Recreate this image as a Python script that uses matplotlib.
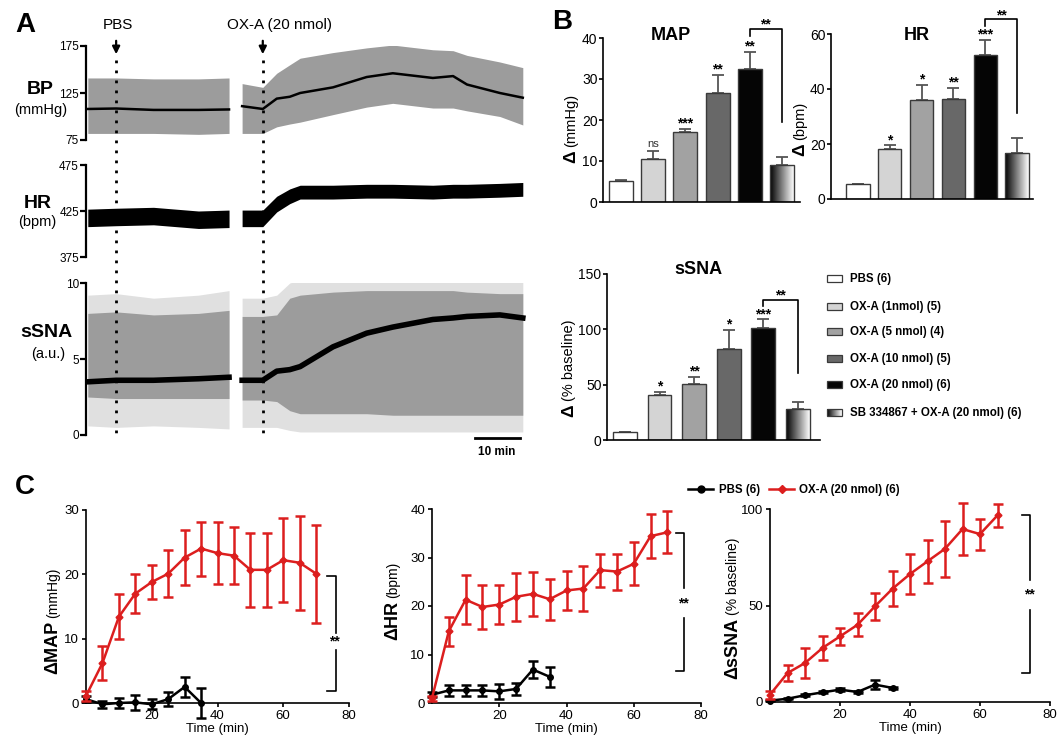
import numpy as np
import matplotlib.pyplot as plt
from matplotlib.patches import Rectangle
from matplotlib.lines import Line2D

plt.rcParams['font.family'] = ['Liberation Sans', 'DejaVu Sans']
plt.rcParams['axes.linewidth'] = 1.2

W, H = 1063, 750

# ---------------- A: raw recordings (time in min) ----------------
pbs_time = 6.7
oxa_time = 39.3
t_left = [0.4, 6.7, 15.0, 25.0, 31.8]
t_right = [34.7, 39.3, 42.4, 45.3, 47.6, 54.9, 62.4, 68.2, 77.1, 81.6, 84.7, 92.0, 97.1]

bp_mean_l = [108, 108.5, 107, 107, 107.5]
bp_hi_l = [141, 141, 140, 140, 141]
bp_lo_l = [82, 82, 82, 81, 82]
bp_mean_r = [111, 108, 119, 121, 125, 131, 142, 146, 141, 143, 134, 125, 120]
bp_hi_r = [135, 131, 146, 155, 162, 168, 173, 176, 171, 170, 165, 158, 152]
bp_lo_r = [82, 82, 89, 92, 94, 102, 110, 114, 109, 109, 106, 100, 91]

hr_hi_l = [427, 428, 429, 425, 426]
hr_lo_l = [408, 409, 410, 406, 407]
hr_hi_r = [426, 426, 441, 449, 453, 453, 454, 454, 453, 454, 454, 455, 456]
hr_lo_r = [408, 408, 424, 433, 438, 438, 439, 439, 438, 439, 439, 440, 441]

sn_mean_l = [3.5, 3.6, 3.6, 3.7, 3.8]
sn_hi_l = [8.0, 8.1, 7.9, 8.0, 8.2]
sn_lo_l = [2.5, 2.4, 2.4, 2.4, 2.4]
sn_spk_hi_l = [9.2, 9.3, 9.0, 9.2, 9.5]
sn_spk_lo_l = [0.6, 0.5, 0.6, 0.5, 0.4]
sn_mean_r = [3.6, 3.6, 4.2, 4.3, 4.5, 5.8, 6.7, 7.1, 7.6, 7.7, 7.8, 7.9, 7.7]
sn_hi_r = [7.8, 7.8, 7.9, 9.0, 9.2, 9.4, 9.5, 9.5, 9.5, 9.5, 9.4, 9.3, 9.3]
sn_lo_r = [2.3, 2.3, 2.2, 1.6, 1.4, 1.4, 1.4, 1.3, 1.3, 1.3, 1.3, 1.3, 1.3]
sn_spk_hi_r = [9.0, 9.0, 9.2, 10.0, 10.2, 10.3, 10.3, 10.3, 10.3, 10.3, 10.2, 10.2, 10.2]
sn_spk_lo_r = [0.5, 0.5, 0.5, 0.3, 0.2, 0.2, 0.2, 0.2, 0.2, 0.2, 0.2, 0.2, 0.2]

# ---------------- B: peak responses ----------------
groups = ['PBS (6)', 'OX-A (1nmol) (5)', 'OX-A (5 nmol) (4)', 'OX-A (10 nmol) (5)',
          'OX-A (20 nmol) (6)', 'SB 334867 + OX-A (20 nmol) (6)']
bar_colors = ['white', '#d4d4d4', '#a2a2a2', '#686868', '#050505', 'none']
map_mean = [5.2, 10.6, 17.1, 26.6, 32.4, 9.1]
map_sem = [0.2, 1.9, 0.8, 4.3, 4.2, 1.9]
map_sig = ['', 'ns', '***', '**', '**', '']
hr_mean = [5.4, 18.1, 36.1, 36.5, 52.5, 16.9]
hr_sem = [0.2, 1.4, 5.5, 4.0, 5.5, 5.2]
hr_sig = ['', '*', '*', '**', '***', '']
sn_mean = [7.0, 40.3, 50.6, 82.4, 101.5, 27.9]
sn_sem = [0.5, 3.1, 6.4, 17.0, 7.5, 6.1]
sn_sig = ['', '*', '**', '*', '***', '']

# ---------------- C: time course ----------------
t_red = [0, 5, 10, 15, 20, 25, 30, 35, 40, 45, 50, 55, 60, 65, 70]
t_red_sn = [0, 5, 10, 15, 20, 25, 30, 35, 40, 45, 50, 55, 60, 65]
t_black = [0, 5, 10, 15, 20, 25, 30, 35]

map_red = [1.1, 6.2, 13.4, 17.0, 18.8, 20.1, 22.6, 24.0, 23.3, 22.9, 20.7, 20.7, 22.2, 21.8, 20.1]
map_red_e = [0.8, 2.6, 3.5, 3.0, 2.6, 3.7, 4.3, 4.2, 4.8, 4.4, 5.8, 5.7, 6.5, 7.3, 7.6]
map_blk = [0.6, -0.2, 0.0, 0.1, -0.2, 0.6, 2.5, 0.0]
map_blk_e = [0.5, 0.5, 0.7, 1.2, 0.8, 1.1, 1.5, 2.4]

hr_red = [1.0, 14.8, 21.3, 19.8, 20.3, 21.9, 22.5, 21.4, 23.2, 23.6, 27.4, 27.1, 28.7, 34.4, 35.2]
hr_red_e = [0.5, 3.0, 5.0, 4.5, 4.1, 4.9, 4.5, 4.2, 4.0, 4.6, 3.4, 3.7, 4.4, 4.6, 4.3]
hr_blk = [1.7, 2.6, 2.6, 2.6, 2.4, 2.9, 6.9, 5.4]
hr_blk_e = [0.5, 1.2, 1.1, 1.2, 1.6, 1.2, 1.8, 2.0]

sn_red = [3.8, 15.0, 20.2, 28.0, 34.0, 40.0, 49.6, 58.7, 66.3, 72.9, 79.4, 89.6, 87.0, 96.7]
sn_red_e = [2.0, 4.3, 7.6, 6.2, 4.5, 6.0, 7.0, 9.0, 10.4, 11.0, 14.5, 13.6, 8.0, 5.8]
sn_blk = [0.7, 1.7, 3.5, 5.0, 6.4, 5.2, 9.0, 7.3]
sn_blk_e = [0.3, 0.4, 0.5, 0.5, 0.6, 0.6, 2.5, 0.7]

RED = '#dc1e1e'
GRAY = '#9c9c9c'


def px_rect(l, t, r, b):
    return [l / W, 1 - b / H, (r - l) / W, (b - t) / H]


def ftext(x, y, s, **kw):
    fig.text(x / W, 1 - y / H, s, **kw)


def split_ylabel(x, y, bold, regular, bsize, rsize):
    ftext(x, y, bold, rotation=90, ha='center', va='top', fontsize=bsize, fontweight='bold')
    ftext(x, y - 3, regular, rotation=90, ha='center', va='bottom', fontsize=rsize)


fig = plt.figure(figsize=(W / 100, H / 100), dpi=100)

# ================= panel A =================
t_max = 98.7
ax_bp = fig.add_axes(px_rect(86, 46, 530, 140))
ax_hr = fig.add_axes(px_rect(86, 165, 530, 257))
ax_sn = fig.add_axes(px_rect(86, 283, 530, 435))
for ax in (ax_bp, ax_hr, ax_sn):
    ax.set_xlim(0, t_max)
    for s in ['top', 'right', 'bottom']:
        ax.spines[s].set_visible(False)
    ax.spines['left'].set_linewidth(1.6)
    ax.set_xticks([])
    ax.patch.set_alpha(0)
    ax.tick_params(axis='y', labelsize=8.5, length=4, width=1.6, pad=1)

ax_bp.fill_between(t_left, bp_lo_l, bp_hi_l, color=GRAY, lw=0)
ax_bp.fill_between(t_right, bp_lo_r, bp_hi_r, color=GRAY, lw=0)
ax_bp.plot(t_left, bp_mean_l, color='k', lw=1.8)
ax_bp.plot(t_right, bp_mean_r, color='k', lw=1.8)
ax_bp.set_ylim(75, 175)
ax_bp.set_yticks([75, 125, 175])

ax_hr.fill_between(t_left, hr_lo_l, hr_hi_l, color='k', lw=0)
ax_hr.fill_between(t_right, hr_lo_r, hr_hi_r, color='k', lw=0)
ax_hr.set_ylim(375, 475)
ax_hr.set_yticks([375, 425, 475])

ax_sn.fill_between(t_left, sn_spk_lo_l, sn_spk_hi_l, color='#e0e0e0', lw=0)
ax_sn.fill_between(t_right, sn_spk_lo_r, sn_spk_hi_r, color='#e0e0e0', lw=0)
ax_sn.fill_between(t_left, sn_lo_l, sn_hi_l, color=GRAY, lw=0)
ax_sn.fill_between(t_right, sn_lo_r, sn_hi_r, color=GRAY, lw=0)
ax_sn.plot(t_left, sn_mean_l, color='k', lw=4)
ax_sn.plot(t_right, sn_mean_r, color='k', lw=4)
ax_sn.set_ylim(0, 10)
ax_sn.set_yticks([0, 5, 10])

# overlay for event markers and scale bar (x in minutes, y in pixels)
ov = fig.add_axes(px_rect(86, 0, 530, 470))
ov.set_xlim(0, t_max)
ov.set_ylim(470, 0)
ov.axis('off')
for tt in (pbs_time, oxa_time):
    ov.plot([tt, tt], [60, 435], color='k', lw=2, ls=(0, (1, 2.6)))
    ov.annotate('', xy=(tt, 57), xytext=(tt, 38),
                arrowprops=dict(arrowstyle='-|>', color='k', lw=1.6, mutation_scale=11))
ov.text(pbs_time + 0.4, 25, 'PBS', ha='center', va='center', fontsize=11)
ov.text(oxa_time + 3.8, 25, 'OX-A (20 nmol)', ha='center', va='center', fontsize=11)
ov.plot([86.4, 96.4], [438, 438], color='k', lw=2)
ov.text(91.4, 452, '10 min', ha='center', va='center', fontsize=8.5, fontweight='bold')

ftext(15, 25, 'A', fontsize=20, fontweight='bold', ha='left', va='center')
ftext(40, 89, 'BP', fontsize=14, fontweight='bold', ha='center', va='center')
ftext(41, 110, '(mmHg)', fontsize=10.5, ha='center', va='center')
ftext(38, 203, 'HR', fontsize=14, fontweight='bold', ha='center', va='center')
ftext(37, 222, '(bpm)', fontsize=10.5, ha='center', va='center')
ftext(46, 333, 'sSNA', fontsize=14, fontweight='bold', ha='center', va='center')
ftext(48, 354, '(a.u.)', fontsize=10.5, ha='center', va='center')

# ================= panel B =================


def bar_panel(rect, means, sems, sig, ylim, yticks, xlim, width, bracket):
    ax = fig.add_axes(rect)
    x = np.arange(len(means))
    bars = ax.bar(x, means, width=width, color=bar_colors, edgecolor='#3a3a3a', lw=1, zorder=2)
    ax.errorbar(x, means, yerr=[np.zeros(len(means)), sems], fmt='none', ecolor='#555555',
                elinewidth=1.3, capsize=4.5, capthick=1.3, zorder=1)
    last = bars[-1]
    grad = np.linspace(0, 1, 100).reshape(1, -1)
    im = ax.imshow(grad, cmap='gray', aspect='auto', zorder=1.5,
                   extent=[last.get_x(), last.get_x() + width, 0, last.get_height()])
    im.set_clip_path(last)
    for xi, m, e, s in zip(x, means, sems, sig):
        if not s:
            continue
        if s == 'ns':
            ax.annotate(s, (xi, m + e), xytext=(0, 3), textcoords='offset points',
                        ha='center', va='baseline', fontsize=8, color='#333333')
        else:
            ax.annotate(s, (xi, m + e), xytext=(0, 1), textcoords='offset points',
                        ha='center', va='baseline', fontsize=10, fontweight='bold')
    y_top, y_tick, y_drop = bracket
    ax.plot([4, 4, 5, 5], [y_tick, y_top, y_top, y_drop], color='k', lw=1.2, clip_on=False)
    ax.annotate('**', (4.5, y_top), xytext=(0, 0), textcoords='offset points',
                ha='center', va='baseline', fontsize=10, fontweight='bold', annotation_clip=False)
    ax.set_xlim(*xlim)
    ax.set_ylim(*ylim)
    ax.set_yticks(yticks)
    ax.set_xticks([])
    ax.spines['top'].set_visible(False)
    ax.spines['right'].set_visible(False)
    ax.tick_params(axis='y', labelsize=10, length=3, width=1.2, pad=1)
    return ax


ax_map = bar_panel(px_rect(603, 38, 800, 202), map_mean, map_sem, map_sig, (0, 40),
                   [0, 10, 20, 30, 40], (-0.56, 5.56), 0.745, (42.3, 40.6, 19.4))
ax_hrb = bar_panel(px_rect(831, 34, 1033, 199), hr_mean, hr_sem, hr_sig, (0, 60),
                   [0, 20, 40, 60], (-0.85, 5.5), 0.73, (65.3, 62.8, 31.4))
ax_snb = bar_panel(px_rect(607, 274, 820, 440), sn_mean, sn_sem, sn_sig, (0, 150),
                   [0, 50, 100, 150], (-0.52, 5.64), 0.69, (126.6, 121.0, 60.6))

ftext(562, 22, 'B', fontsize=20, fontweight='bold', ha='center', va='center')
ftext(671, 35, 'MAP', fontsize=13, fontweight='bold', ha='center', va='center')
ftext(917, 35, 'HR', fontsize=13, fontweight='bold', ha='center', va='center')
ftext(698, 269, 'sSNA', fontsize=13, fontweight='bold', ha='center', va='center')
split_ylabel(571, 150, 'Δ', '(mmHg)', 12.5, 10.5)
split_ylabel(800, 143, 'Δ', '(bpm)', 12.5, 10.5)
split_ylabel(569, 404, 'Δ', '(% baseline)', 12.5, 10.5)

# legend for B (pixel coordinates)
lax = fig.add_axes(px_rect(820, 265, 1063, 425))
lax.axis('off')
row_y = [279, 307, 332, 359, 385, 413]
for i, (lab, c) in enumerate(zip(groups, bar_colors)):
    y = row_y[i]
    if c == 'none':
        lax.imshow(np.linspace(0, 1, 100).reshape(1, -1), cmap='gray', aspect='auto',
                   extent=[827, 842, y + 3.5, y - 3.5])
    lax.add_patch(Rectangle((827, y - 3.5), 15, 7, fc=c, ec='#3a3a3a', lw=0.9))
    lax.text(850, y, lab, fontsize=8.3, fontweight='bold', ha='left', va='center')
lax.set_xlim(820, 1063)
lax.set_ylim(425, 265)

# ================= panel C =================


def time_panel(rect, red, red_e, blk, blk_e, tr, ylim, yticks, bracket):
    ax = fig.add_axes(rect)
    ax.errorbar(t_black, blk, yerr=blk_e, color='k', marker='o', ms=4, lw=1.8,
                elinewidth=1.8, capsize=3.5, capthick=1.8, clip_on=False, zorder=3)
    ax.errorbar(tr, red, yerr=red_e, color=RED, marker='D', ms=3.5, lw=1.8,
                elinewidth=1.8, capsize=3.5, capthick=1.8, clip_on=False, zorder=4)
    xb, xt, ytop, ybot, ystar, g0, g1 = bracket
    ax.plot([xt, xb, xb], [ytop, ytop, g1], color='k', lw=1.2, clip_on=False)
    ax.plot([xb, xb, xt], [g0, ybot, ybot], color='k', lw=1.2, clip_on=False)
    ax.text(xb - 0.3, ystar, '**', ha='center', va='center', fontsize=10, fontweight='bold')
    ax.set_xlim(0, 80)
    ax.set_ylim(*ylim)
    ax.set_xticks([20, 40, 60, 80])
    ax.set_yticks(yticks)
    ax.spines['top'].set_visible(False)
    ax.spines['right'].set_visible(False)
    ax.tick_params(labelsize=9.5, length=3, width=1.2, pad=2)
    ax.set_xlabel('Time (min)', fontsize=9.5, labelpad=1)
    return ax


time_panel(px_rect(86, 510, 349, 703), map_red, map_red_e, map_blk, map_blk_e, t_red,
           (0, 30), [0, 10, 20, 30], (76, 73.2, 19.8, 1.8, 9.6, 8.3, 10.9))
time_panel(px_rect(432, 509, 701, 703), hr_red, hr_red_e, hr_blk, hr_blk_e, t_red,
           (0, 40), [0, 10, 20, 30, 40], (75, 72.6, 35.0, 6.5, 20.6, 17.5, 23.7))
time_panel(px_rect(770, 509, 1050, 702), sn_red, sn_red_e, sn_blk, sn_blk_e, t_red_sn,
           (0, 100), [0, 50, 100], (74.3, 71.9, 97.0, 15.0, 55.6, 47.8, 63.4))

ftext(15, 487, 'C', fontsize=20, fontweight='bold', ha='left', va='center')
split_ylabel(53, 621, 'ΔMAP', '(mmHg)', 13, 10)
split_ylabel(393, 601, 'ΔHR', '(bpm)', 13, 10)
split_ylabel(733, 618, 'ΔsSNA', '(% baseline)', 13, 10)

handles = [Line2D([], [], color='k', marker='o', ms=5, lw=1.8),
           Line2D([], [], color=RED, marker='D', ms=4.5, lw=1.8)]
fig.legend(handles, ['PBS (6)', 'OX-A (20 nmol) (6)'], loc='center left',
           bbox_to_anchor=(688 / W, 1 - 490 / H), ncol=2, frameon=False,
           prop={'weight': 'bold', 'size': 8.3}, handlelength=2.2, handletextpad=0.45,
           columnspacing=0.8, borderpad=0, borderaxespad=0)

fig.savefig('out.png', dpi=100)
